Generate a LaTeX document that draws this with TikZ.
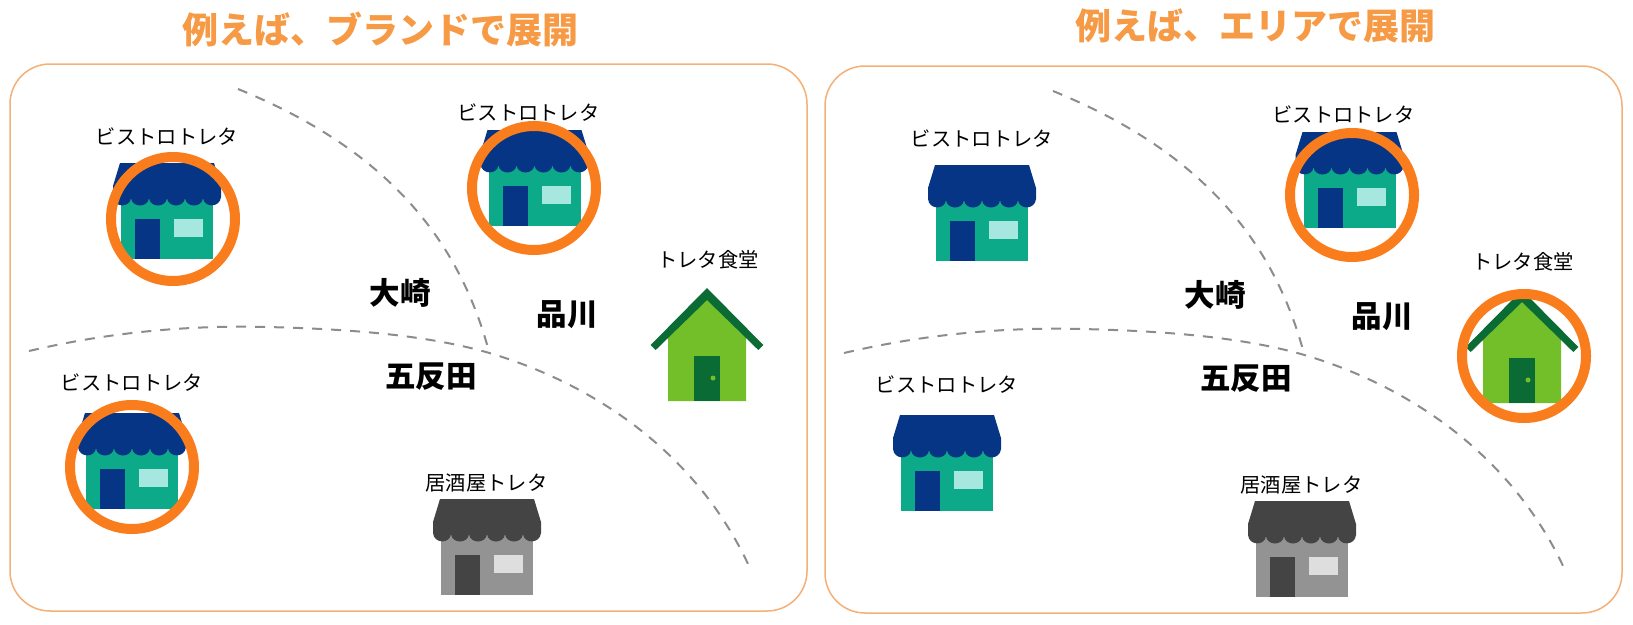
\documentclass[tikz,border=0pt]{standalone}
\usepackage{fontspec}
\setmainfont{Noto Sans CJK JP}
\definecolor{navy}{HTML}{063585}
\definecolor{teal}{HTML}{0DAA89}
\definecolor{pane}{HTML}{A6E8E0}
\definecolor{leaf}{HTML}{72BF2A}
\definecolor{pine}{HTML}{0A6B35}
\definecolor{ringc}{HTML}{F97D1C}
\definecolor{panelc}{HTML}{F5B078}
\definecolor{titlec}{HTML}{F79A45}
\definecolor{dgray}{HTML}{444444}
\definecolor{mgray}{HTML}{939393}
\definecolor{lgray}{HTML}{DEDEDE}
\definecolor{dashc}{HTML}{8C8C8C}
\tikzset{
  x=1pt,y=-1pt,
  panel/.style={draw=panelc,line width=1.5pt,rounded corners=40pt},
  titletext/.style={font=\fontsize{36}{36}\selectfont\bfseries,text=titlec,inner sep=0pt},
  shoplabel/.style={font=\fontsize{20.3}{21}\selectfont,inner sep=0pt},
  arealabel/.style={font=\fontsize{30.5}{31}\selectfont\bfseries,inner sep=0pt},
  border/.style={draw=dashc,line width=2pt,dash pattern=on 10pt off 9pt},
  ring/.style={draw=ringc,line width=10pt},
}
% x y roof body window
\newcommand{\shopicon}[5]{%
  \begin{scope}[shift={(#1,#2)}]
    \fill[#4] (-46,-60) rectangle (46,0);
    \fill[#3] (-32,-40) rectangle (-7,0);
    \fill[#5] (7,-40) rectangle (36,-22);
    \fill[#3,line join=round] (-47,-96) -- (47,-96) -- (54,-73) -- (54,-62)
      .. controls (53,-51) and (37,-51) .. (36,-61)
      .. controls (35,-51) and (19,-51) .. (18,-61)
      .. controls (17,-51) and (1,-51) .. (0,-61)
      .. controls (-1,-51) and (-17,-51) .. (-18,-61)
      .. controls (-19,-51) and (-35,-51) .. (-36,-61)
      .. controls (-37,-51) and (-53,-51) .. (-54,-62)
      -- (-54,-73) -- cycle;
  \end{scope}}
\newcommand{\cottage}[2]{%
  \begin{scope}[shift={(#1,#2)}]
    \fill[leaf] (-39,0) -- (-39,-63) -- (0,-103) -- (39,-63) -- (39,0) -- cycle;
    \fill[pine] (-13,-45) rectangle (13,0);
    \fill[leaf] (6,-23) circle[radius=2.5];
    \fill[pine] (0,-113) -- (56.3,-56) -- (51.3,-51) -- (0,-101) -- (-51.3,-51) -- (-56.3,-56) -- cycle;
  \end{scope}}
% common map: dx dy prefix
\newcommand{\mapbase}[3]{%
  \begin{scope}[shift={(#1,#2)}]
    \draw[border] (238,89) .. controls (388,150) and (458,240) .. (488,348);
    \draw[border] (29,351) .. controls (110,332) and (190,325) .. (267,327)
      .. controls (350,329) and (425,335) .. (486,352)
      .. controls (590,382) and (695,450) .. (749,566);
    \node[arealabel] (#3osaki) at (400,293) {大崎};
    \node[arealabel] (#3shinagawa) at (567,315) {品川};
    \node[arealabel] (#3gotanda) at (431,377) {五反田};
    \shopicon{167}{259}{navy}{teal}{pane}
    \shopicon{534.5}{226}{navy}{teal}{pane}
    \shopicon{132}{509}{navy}{teal}{pane}
    \shopicon{487}{595}{dgray}{mgray}{lgray}
    \cottage{707}{401}
    \node[shoplabel] (#3bistroa) at (167,137) {ビストロトレタ};
    \node[shoplabel] (#3bistrob) at (528.5,113) {ビストロトレタ};
    \node[shoplabel] (#3bistroc) at (132,383) {ビストロトレタ};
    \node[shoplabel] (#3izakaya) at (486.5,483) {居酒屋トレタ};
    \node[shoplabel] (#3shokudo) at (708,260) {トレタ食堂};
  \end{scope}}
\begin{document}
\begin{tikzpicture}
  \useasboundingbox (0,0) rectangle (1633,624);
  \fill[white] (0,0) rectangle (1633,624);
  \draw[panel] (10,64) rectangle (807,611);
  \draw[panel] (825,66) rectangle (1622,613);
  \node[titletext] (titleleft) at (380,30) {例えば、ブランドで展開};
  \node[titletext] (titleright) at (1255,26) {例えば、エリアで展開};
  \mapbase{0}{0}{l}
  \mapbase{815}{2}{r}
  \draw[ring] (173,219) circle[radius=62];
  \draw[ring] (534,188) circle[radius=62];
  \draw[ring] (132,467) circle[radius=62];
  \draw[ring] (1352,195) circle[radius=62];
  \draw[ring] (1524,356) circle[radius=62];
\end{tikzpicture}
\end{document}
